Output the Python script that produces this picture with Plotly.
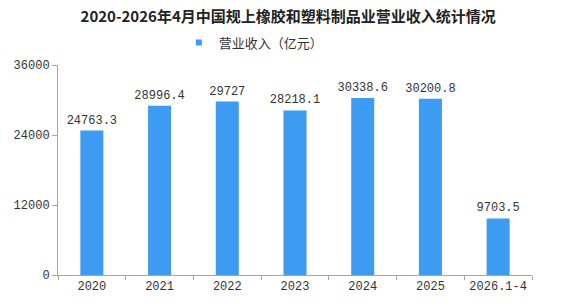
import plotly.graph_objects as go

categories = ["2020", "2021", "2022", "2023", "2024", "2025", "2026.1-4"]
revenue = [24763.3, 28996.4, 29727, 28218.1, 30338.6, 30200.8, 9703.5]
labels = ["24763.3", "28996.4", "29727", "28218.1", "30338.6", "30200.8", "9703.5"]
yticks = [0, 12000, 24000, 36000]
series_name = "营业收入（亿元）"
title = "2020-2026年4月中国规上橡胶和塑料制品业营业收入统计情况"
bar_color = "#3D9CF2"

fig = go.Figure()
fig.add_trace(go.Bar(
    x=categories, y=revenue, name=series_name,
    text=labels, textposition="outside", texttemplate="%{text}",
    constraintext="none",
    textfont=dict(family="Liberation Mono, monospace", size=12, color="#333333"),
    marker=dict(color=bar_color, line=dict(width=0)),
    cliponaxis=False,
    showlegend=False,
))
# legend entry with a small square marker
fig.add_trace(go.Scatter(
    x=[None], y=[None], mode="markers", name=series_name,
    marker=dict(symbol="square", size=6, color=bar_color),
    showlegend=True,
))

fig.update_layout(
    width=565, height=306,
    margin=dict(l=58, r=33, t=65, b=26),
    paper_bgcolor="white", plot_bgcolor="white",
    bargap=0.66,
    title=dict(text="<b>" + title + "</b>", x=0.51, xanchor="center", y=0.945, yanchor="middle",
               font=dict(family="Noto Sans CJK SC", size=15, color="#222222")),
    legend=dict(orientation="h", x=0.255, xanchor="left", y=1.035, yanchor="bottom",
                font=dict(family="Noto Sans CJK SC", size=13, color="#333333"),
                itemwidth=30, bgcolor="rgba(0,0,0,0)"),
    font=dict(family="Noto Sans CJK SC", color="#333333"),
)
fig.update_xaxes(
    type="category", showline=True, linecolor="#A6A6A6", linewidth=1,
    ticks="outside", tickson="boundaries", ticklen=4, tickcolor="#A6A6A6",
    tickfont=dict(family="Liberation Mono, monospace", size=12, color="#333333"),
    showgrid=False,
)
fig.update_yaxes(
    range=[0, 36000], tickvals=yticks, ticktext=[str(v) for v in yticks],
    showline=True, linecolor="#A6A6A6", linewidth=1,
    ticks="outside", ticklen=5, tickcolor="#A6A6A6",
    tickfont=dict(family="Liberation Mono, monospace", size=12, color="#333333"),
    showgrid=False, zeroline=False,
)

fig.write_html("out.html")
